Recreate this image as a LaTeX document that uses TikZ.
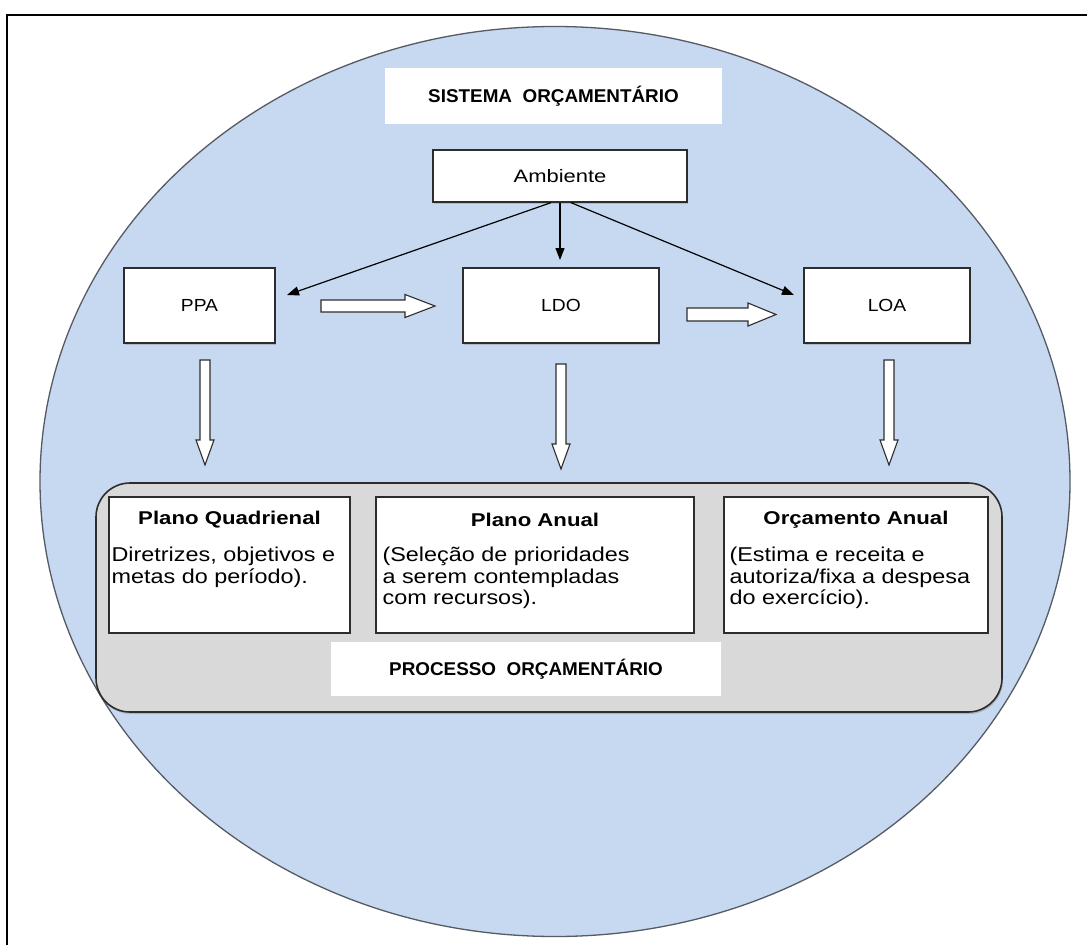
\documentclass[tikz,border=0pt]{standalone}
\usepackage{fontspec}
\setmainfont{Liberation Sans}
\newfontfamily\bodyfont[FakeStretch=1.17]{Liberation Sans}
\newfontfamily\titlefont[FakeStretch=1.2]{Liberation Sans Bold}
\newfontfamily\headfont[FakeStretch=1.02]{Liberation Sans Bold}
\newfontfamily\labelfont[FakeStretch=1.1]{Liberation Sans}
\newfontfamily\amblabelfont[FakeStretch=1.22]{Liberation Sans}
\usetikzlibrary{arrows.meta,shadows}
\definecolor{ellblue}{RGB}{199,217,240}
\definecolor{ellline}{RGB}{85,90,100}
\definecolor{boxgray}{RGB}{217,217,217}
\definecolor{darkline}{RGB}{45,45,45}
\tikzset{
  whitebox/.style={draw=darkline, line width=1.3pt, fill=white, inner sep=0pt},
  plainbox/.style={fill=white, inner sep=0pt},
  thinarrow/.style={line width=1.2pt, -{Triangle[length=12pt,width=9pt]}},
  blockarrow/.style={draw=darkline, line width=1.1pt, fill=white, line join=miter},
  bodytext/.style={inner sep=0pt, anchor=north west, align=left, font=\bodyfont\fontsize{20}{21.5}\selectfont},
  titletext/.style={inner sep=0pt, font=\titlefont\fontsize{18.5}{20}\selectfont},
  headtext/.style={font=\headfont\fontsize{18.5}{20}\selectfont},
  labeltext/.style={font=\labelfont\fontsize{17.5}{19}\selectfont},
  downarrow/.pic={\draw[blockarrow] (-5,0) -- (5,0) -- (5,80) -- (9,80) -- (0,105) -- (-9,80) -- (-5,80) -- cycle;},
}
\begin{document}
\begin{tikzpicture}[x=1pt,y=-1pt]
\useasboundingbox (0,0) rectangle (1087,945);
% frame
\draw[line width=2.5pt] (7,950) -- (7,15) -- (1095,15);
% ellipse
\draw[fill=ellblue, draw=ellline, line width=1.3pt] (555,481.5) ellipse [x radius=515, y radius=455];
% title
\node[plainbox, headtext, minimum width=337pt, minimum height=56pt] (sis) at (553.5,96) {SISTEMA\ \ ORÇAMENTÁRIO};
% top level boxes
\node[whitebox, minimum width=254pt, minimum height=52pt, font=\amblabelfont\fontsize{18}{19}\selectfont, drop shadow={opacity=0.35,shadow xshift=1pt,shadow yshift=-1.5pt}] (amb) at (560,176) {Ambiente};
\node[whitebox, labeltext, minimum width=151pt, minimum height=75pt, drop shadow={opacity=0.35,shadow xshift=1pt,shadow yshift=-1.5pt}] (ppa) at (199.5,305.5) {PPA};
\node[whitebox, labeltext, minimum width=196pt, minimum height=75pt, drop shadow={opacity=0.35,shadow xshift=1pt,shadow yshift=-1.5pt}] (ldo) at (561,305.5) {LDO};
\node[whitebox, labeltext, minimum width=166pt, minimum height=75pt, drop shadow={opacity=0.35,shadow xshift=1pt,shadow yshift=-1.5pt}] (loa) at (887,305.5) {LOA};
% thin arrows
\coordinate (tppa) at (287,295);
\coordinate (tldo) at (560,260);
\coordinate (tloa) at (794,295);
\draw[thinarrow] ([xshift=-9pt]amb.south) -- (tppa);
\draw[thinarrow] (amb.south) -- (tldo);
\draw[thinarrow] ([xshift=11pt]amb.south) -- (tloa);
% horizontal block arrows
\draw[blockarrow] (321,300) -- (405,300) -- (405,294.5) -- (435,306) -- (405,317.5) -- (405,312) -- (321,312) -- cycle;
\draw[blockarrow] (687,308) -- (748,308) -- (748,303) -- (776,314.5) -- (748,326) -- (748,321) -- (687,321) -- cycle;
% down block arrows
\pic at (205,360) {downarrow};
\pic at (561,364) {downarrow};
\pic at (889,360) {downarrow};
% process box
\node[draw=darkline, line width=1.6pt, fill=boxgray, rounded corners=34pt, minimum width=906pt, minimum height=229pt, inner sep=0pt, drop shadow={opacity=0.4,shadow xshift=1pt,shadow yshift=-2pt}] (proc) at (549,597.5) {};
\node[whitebox, minimum width=241pt, minimum height=136pt] (pq) at (229.5,565) {};
\node[whitebox, minimum width=318pt, minimum height=136pt] (pa) at (535,565) {};
\node[whitebox, minimum width=264pt, minimum height=136pt] (oa) at (856,565) {};
\node[plainbox, headtext, minimum width=390pt, minimum height=54pt] (proct) at (526,669) {PROCESSO\ \ ORÇAMENTÁRIO};
% titles
\node[titletext] (pqt) at (pq.center |- 0,520) {Plano Quadrienal};
\node[titletext] (pat) at (pa.center |- 0,520) {Plano Anual};
\node[titletext] (oat) at (oa.center |- 0,520) {Orçamento Anual};
% body texts
\node[bodytext] (pqb) at ([xshift=3pt]pq.west |- 0,547) {Diretrizes, objetivos e\\metas do período).};
\node[bodytext] (pab) at ([xshift=7pt]pa.west |- 0,547) {(Seleção de prioridades\\a serem contempladas\\com recursos).};
\node[bodytext] (oab) at ([xshift=6pt]oa.west |- 0,547) {(Estima e receita e\\autoriza/fixa a despesa\\do exercício).};
\end{tikzpicture}
\end{document}
